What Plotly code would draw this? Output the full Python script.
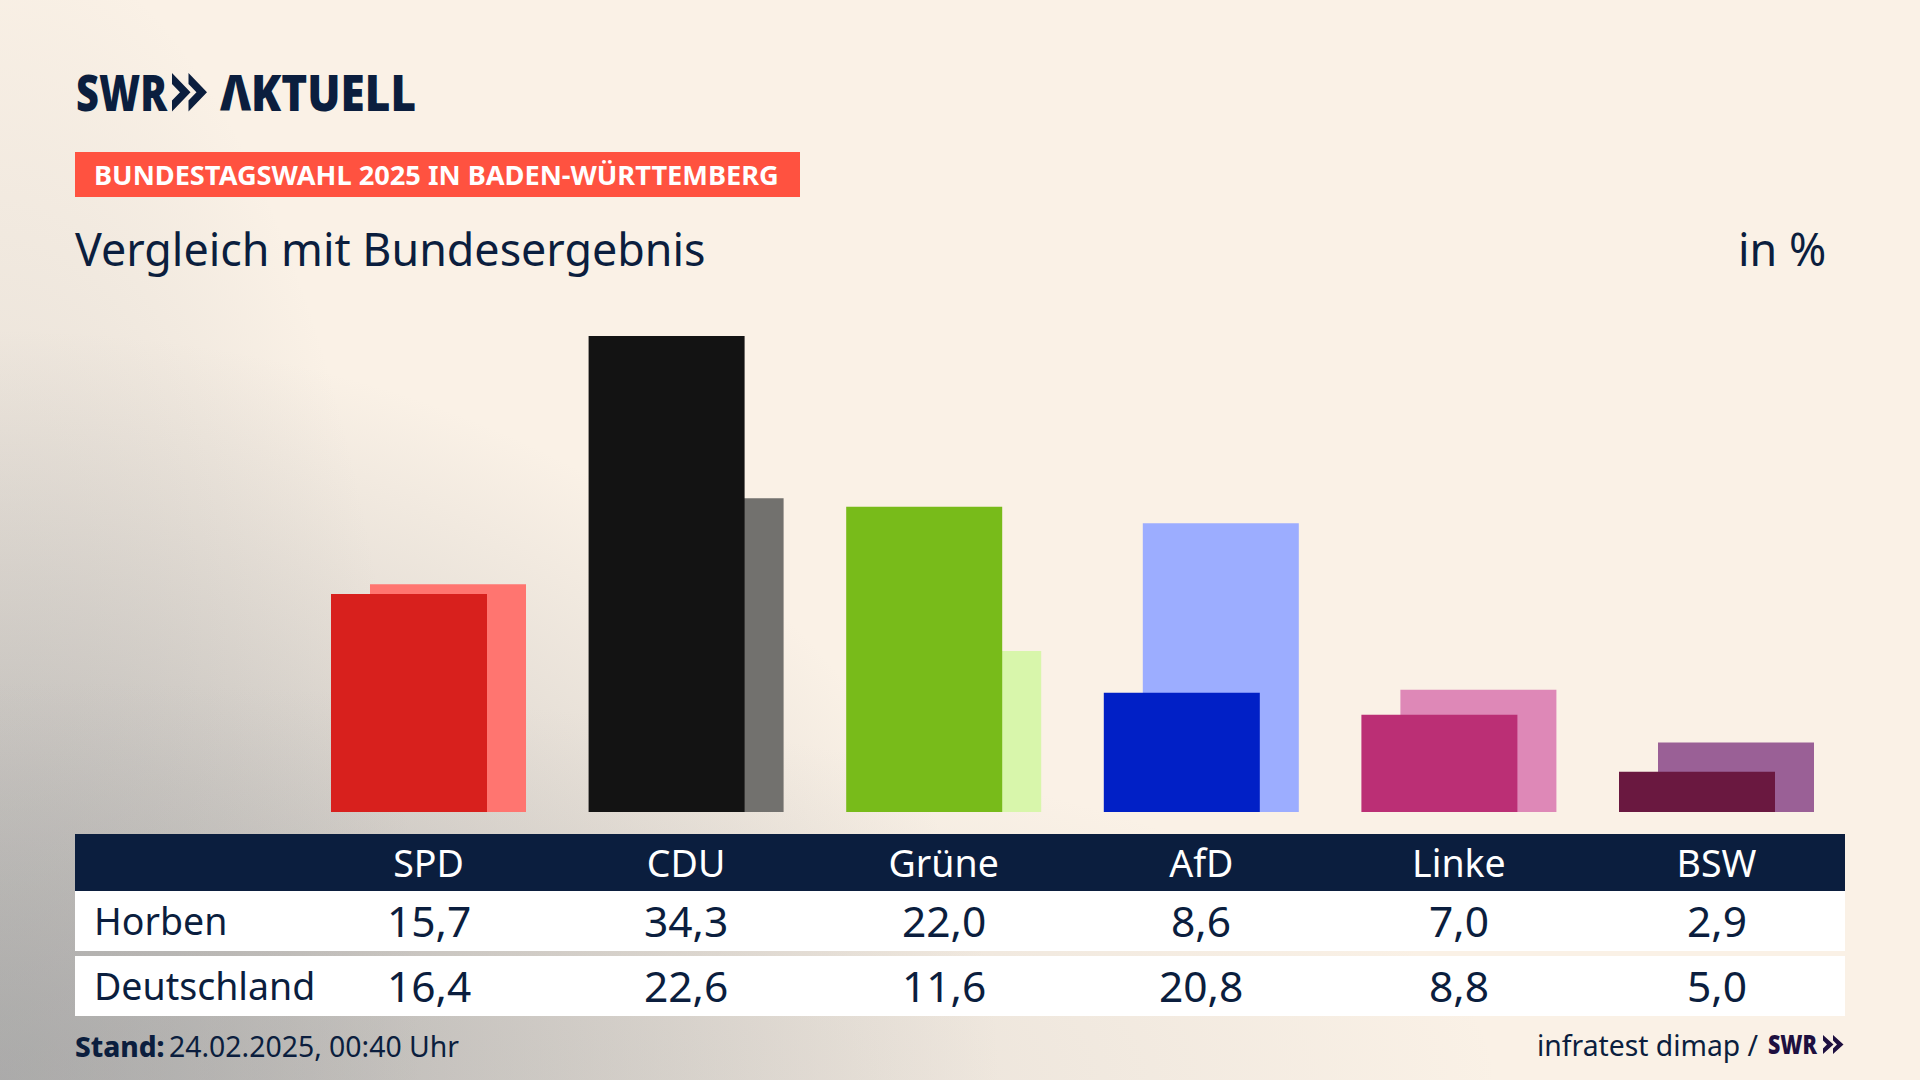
import base64
import plotly.graph_objects as go

# ---- data -------------------------------------------------------------
parties = ["SPD", "CDU", "Grüne", "AfD", "Linke", "BSW"]
horben = [15.7, 34.3, 22.0, 8.6, 7.0, 2.9]
deutschland = [16.4, 22.6, 11.6, 20.8, 8.8, 5.0]
horben_colors = ["#d8201d", "#131313", "#78bb1a", "#0120c6", "#bb2f75", "#6a1840"]
deutschland_colors = ["#ff7570", "#72716e", "#d8f6ab", "#9cadff", "#de88b7", "#9a6096"]
row_labels = ["Horben", "Deutschland"]

NAVY = "#0b1e3e"
W, H = 1920, 1080
FONT = "Noto Sans"
PAD = 2.5


def px(x):
    return x / W


def py(y):
    return 1 - y / H


# scale of the reference: pixels per category and per percent point
CAT = 257.6
FIRST = 428.5
UNIT = 13.88
BASE_Y = 812
TOP_Y = 300
BAR_W = 156 / CAT
SHIFT = 39 / CAT


def grad(gid, rx, ry, alpha):
    return (f'<radialGradient id="{gid}" gradientUnits="userSpaceOnUse" cx="0" cy="0" r="1" '
            f'gradientTransform="translate(0 {H}) scale({rx} {ry})">'
            f'<stop offset="0" stop-color="#a5a5a5" stop-opacity="{alpha}"/>'
            f'<stop offset="1" stop-color="#a5a5a5" stop-opacity="0"/></radialGradient>')


svg = (f'<svg xmlns="http://www.w3.org/2000/svg" width="{W}" height="{H}" viewBox="0 0 {W} {H}"><defs>'
       + grad("a", 1000, 750, 0.8) + grad("b", 420, 1150, 0.4) + grad("c", 1500, 400, 0.4)
       + f'</defs><rect width="{W}" height="{H}" fill="#faf1e6"/>'
       + "".join(f'<rect width="{W}" height="{H}" fill="url(#{g})"/>' for g in "abc")
       + "</svg>")
bg = "data:image/svg+xml;base64," + base64.b64encode(svg.encode()).decode()

fig = go.Figure()
fig.add_bar(
    x=parties, y=deutschland, width=BAR_W, offset=-BAR_W / 2 + SHIFT / 2,
    marker=dict(color=deutschland_colors, line_width=0), name="Deutschland", hoverinfo="x+y+name",
)
fig.add_bar(
    x=parties, y=horben, width=BAR_W, offset=-BAR_W / 2 - SHIFT / 2,
    marker=dict(color=horben_colors, line_width=0), name="Horben", hoverinfo="x+y+name",
)


def rect(x0, y0, x1, y1, color):
    return dict(type="rect", xref="paper", yref="paper", x0=px(x0), x1=px(x1), y0=py(y0), y1=py(y1),
                fillcolor=color, line_width=0, layer="below")


def poly(points, color):
    d = "M " + " L ".join(f"{px(a):.5f} {py(b):.5f}" for a, b in points) + " Z"
    return dict(type="path", xref="paper", yref="paper", path=d, fillcolor=color, line_width=0, layer="below")


def chevron(x, top, bottom, wide, notch, arm, color):
    mid = (top + bottom) / 2
    return poly([(x, top), (x + wide, mid), (x, bottom), (x, bottom - arm), (x + notch, mid), (x, top + arm)], color)


LOGO2 = "#1e1040"
shapes = [
    rect(75, 152, 800, 197, "#ff5240"),
    rect(75, 834, 1845, 891, NAVY),
    rect(75, 891, 1845, 951, "#ffffff"),
    rect(75, 956, 1845, 1016, "#ffffff"),
    chevron(172, 73, 111.5, 18.5, 8, 11, NAVY),
    chevron(188.5, 73, 111.5, 18.5, 8, 11, NAVY),
    chevron(1823, 1035, 1054, 10.5, 4, 5.5, LOGO2),
    chevron(1833, 1035, 1054, 10.5, 4, 5.5, LOGO2),
]


def text(x, y, s, size, color=NAVY, anchor="left", weight=400, xref="paper"):
    if xref == "paper":
        x = px(x - PAD) if anchor == "left" else px(x + PAD) if anchor == "right" else px(x)
    return dict(text=s, x=x, y=py(y), xref=xref, yref="paper",
                xanchor=anchor, yanchor="middle", showarrow=False, align=anchor,
                font=dict(family=FONT, size=size, color=color, weight=weight))


annotations = [
    text(76, 92, "SWR", 49, weight=900),
    text(220, 92, "ΛKTUELL", 49, weight=900),
    text(94, 175, "BUNDESTAGSWAHL 2025 IN BADEN-WÜRTTEMBERG", 27.2, color="#ffffff", weight=700),
    text(75, 248, "Vergleich mit Bundesergebnis", 44.8),
    text(1825, 248, "in %", 44.8, anchor="right"),
    text(75, 1046, "Stand:", 28, weight=800),
    text(169, 1046, "24.02.2025, 00:40 Uhr", 28.4),
    text(1758, 1045, "infratest dimap /", 28.3, anchor="right"),
    text(1768, 1043, "SWR", 27, color=LOGO2, weight=900),
]
for label, values, yc in zip(row_labels, [horben, deutschland], [920, 985]):
    annotations.append(text(94, yc, label, 37.5))
    for party, v in zip(parties, values):
        annotations.append(text(party, yc, f"{v:.1f}".replace(".", ","), 42.5, anchor="center", xref="x"))

fig.update_layout(
    width=W, height=H, margin=dict(l=0, r=0, t=0, b=0), autosize=False,
    barmode="overlay", showlegend=False,
    paper_bgcolor="#faf1e6", plot_bgcolor="rgba(0,0,0,0)",
    images=[dict(source=bg, xref="paper", yref="paper", x=0, y=1, sizex=1, sizey=1,
                 sizing="stretch", xanchor="left", yanchor="top", layer="below")],
    shapes=shapes, annotations=annotations,
    xaxis=dict(domain=[0, 1], type="category", categoryorder="array", categoryarray=parties,
               range=[-FIRST / CAT, (W - FIRST) / CAT], showgrid=False, zeroline=False, showline=False,
               ticks="", ticklabelstandoff=26, tickfont=dict(family=FONT, size=37.5, color="#ffffff")),
    yaxis=dict(domain=[py(BASE_Y), py(TOP_Y)], range=[0, (BASE_Y - TOP_Y) / UNIT], visible=False),
)

# condensed wordmark lettering: fit these strings to the reference's widths
script = """
document.body.style.margin='0';document.documentElement.style.overflow='hidden';
document.querySelectorAll('.annotation-text').forEach(function(t){
  var s=t.textContent, w=0;
  if(s==='SWR'){ w = parseFloat(t.style.fontSize)>40 ? 91 : 49; }
  if(s==='ΛKTUELL'){ w = 196; }
  if(w){ t.setAttribute('textLength',w); t.setAttribute('lengthAdjust','spacingAndGlyphs'); }
});
"""

fig.write_html("out.html", config={"displayModeBar": False}, post_script=script)
